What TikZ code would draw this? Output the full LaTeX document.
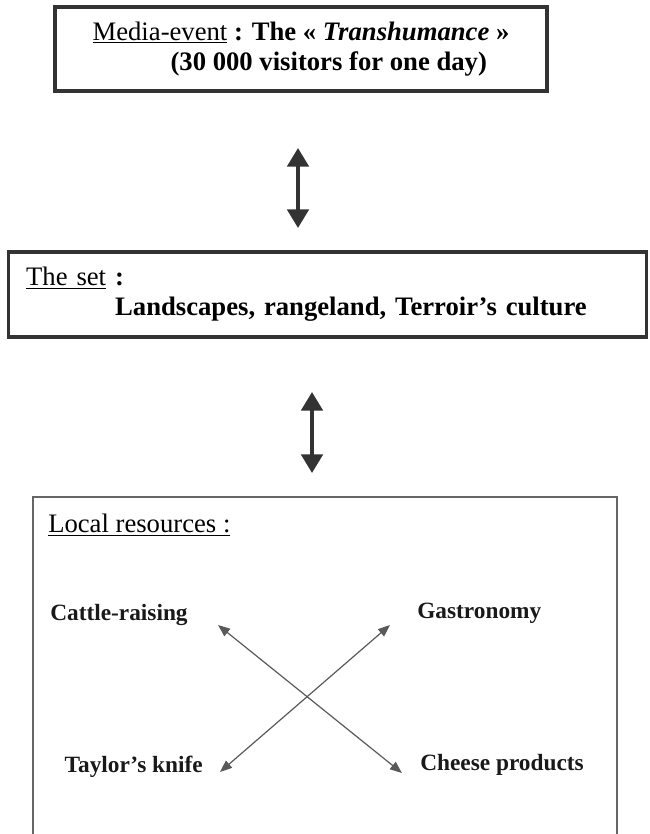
\documentclass[tikz,border=0pt]{standalone}
\usepackage{fontspec}
\setmainfont{Liberation Serif}
\usepackage{tikz}
\usetikzlibrary{arrows.meta,calc}
\tikzset{
  bigbox/.style={draw=black!80, line width=2.4pt, inner sep=0pt, font=\fontsize{20}{22.5}\selectfont},
  resbox/.style={draw=black!60, line width=1.4pt, inner sep=0pt},
  heading/.style={font=\fontsize{20}{22.5}\selectfont, inner sep=0pt},
  item/.style={font=\fontsize{17.5}{20}\selectfont\bfseries, inner sep=0pt, text=black!90},
  bigarrow/.style={draw=black!80, line width=3pt, {Triangle[length=14pt,width=16pt]}-{Triangle[length=14pt,width=16pt]}},
  linkarrow/.style={draw=black!65, line width=0.9pt, {Triangle[length=9pt,width=7pt]}-{Triangle[length=9pt,width=7pt]}}
}

\begin{document}
\begin{tikzpicture}[x=0.75pt,y=-0.75pt]
\useasboundingbox (0,0) rectangle (649,834);
\node[bigbox, minimum width=369pt, minimum height=63pt, align=left] (media) at (301,49) {\underline{Media-event} \textbf{: The « \textit{Transhumance} »}\\\hspace*{58.5pt}\textbf{(30 000 visitors for one day)}};
\node[bigbox, minimum width=479pt, minimum height=63.75pt, text width=452pt, align=left] (set) at (327.5,294.5) {\underline{The set} \textbf{:}\\\hspace*{66.75pt}\textbf{Landscapes, rangeland, Terroir's culture}};
\node[resbox, minimum width=438pt, minimum height=261pt] (local) at (325,671) {};
\node[heading, anchor=west] (localtitle) at (48,525) {\underline{Local resources :}};
\node[item, anchor=west] (cattle) at (50,615) {Cattle-raising};
\node[item, anchor=west] (gastro) at (417,613) {Gastronomy};
\node[item, anchor=east] (knife) at (203,767) {Taylor's knife};
\node[item, anchor=west] (cheese) at (420,765) {Cheese products};
\coordinate (m1) at (298,148);
\coordinate (m2) at (298,228);
\coordinate (s1) at (312,392);
\coordinate (s2) at (312,473);
\coordinate (c1) at (218,625);
\coordinate (c2) at (402,773);
\coordinate (g1) at (390,625);
\coordinate (g2) at (220,772);
\draw[bigarrow] (m1) -- (m2);
\draw[bigarrow] (s1) -- (s2);
\draw[linkarrow] (c1) -- (c2);
\draw[linkarrow] (g1) -- (g2);
\end{tikzpicture}
\end{document}
